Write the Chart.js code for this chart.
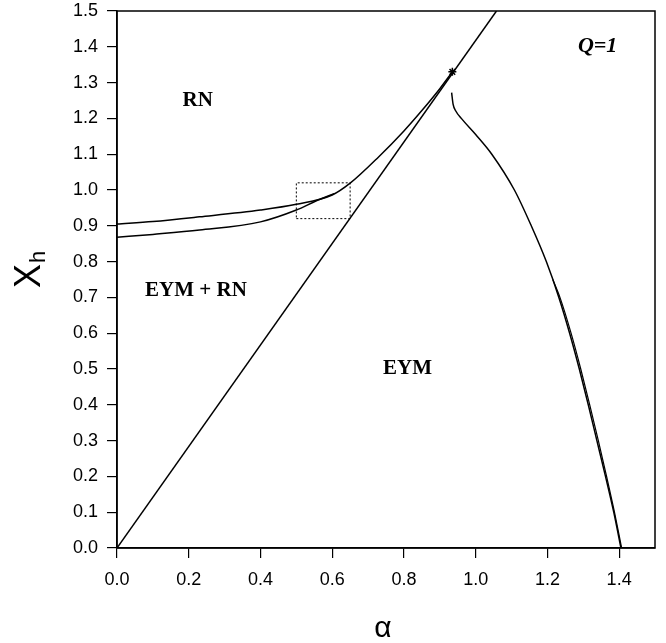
<!DOCTYPE html>
<html lang="en">
<head>
    <meta charset="UTF-8">
    <title>Phase diagram Q=1</title>
    <script src="https://cdn.jsdelivr.net/npm/chart.js"></script>
    <style>
        body {
            margin: 0;
            padding: 0;
            background: white;
        }
        #wrap {
            width: 666px;
            height: 643px;
        }
    </style>
</head>
<body>
    <div id="wrap"><canvas id="phaseChart" width="666" height="643"></canvas></div>

    <script>
        // tick labels
        const xTicks = [0.0, 0.2, 0.4, 0.6, 0.8, 1.0, 1.2, 1.4];
        const yTicks = [0.0, 0.1, 0.2, 0.3, 0.4, 0.5, 0.6, 0.7, 0.8, 0.9, 1.0, 1.1, 1.2, 1.3, 1.4, 1.5];

        // straight boundary line
        const lineAlpha = [0.0, 1.058];
        const lineX = [0.0, 1.5];

        // upper RN boundary
        const upperAlpha = [0.0, 0.1, 0.23, 0.4, 0.5, 0.6, 0.65, 0.73, 0.8, 0.85, 0.9, 0.935];
        const upperX = [0.905, 0.912, 0.925, 0.944, 0.960, 0.986, 1.019, 1.093, 1.165, 1.222, 1.283, 1.330];

        // lower EYM + RN boundary
        const lowerAlpha = [0.0, 0.1, 0.23, 0.4, 0.5, 0.556, 0.605];
        const lowerX = [0.868, 0.876, 0.888, 0.911, 0.944, 0.970, 0.990];

        // right-hand EYM branch (two close branches near the bottom)
        const rightAlpha = [0.933, 0.937, 0.945, 0.960, 1.000, 1.045, 1.108, 1.155, 1.197, 1.232, 1.262, 1.289, 1.314, 1.338, 1.362, 1.385, 1.405];
        const rightX = [1.272, 1.240, 1.220, 1.200, 1.155, 1.100, 1.000, 0.900, 0.800, 0.700, 0.600, 0.500, 0.400, 0.300, 0.200, 0.100, 0.0];
        const right2Alpha = [1.215, 1.235, 1.266, 1.293, 1.318, 1.342, 1.365, 1.387, 1.407];
        const right2X = [0.750, 0.700, 0.600, 0.500, 0.400, 0.300, 0.200, 0.100, 0.0];

        // dotted box
        const boxAlpha = [0.5, 0.65, 0.65, 0.5, 0.5];
        const boxX = [0.92, 0.92, 1.02, 1.02, 0.92];

        // end point marker
        const starAlpha = [0.935];
        const starX = [1.33];

        // region labels
        const regionNames = ['RN', 'EYM + RN', 'EYM'];
        const regionAlpha = [0.225, 0.22, 0.81];
        const regionX = [1.25, 0.72, 0.5];

        function pts(xs, ys) {
            return xs.map((x, i) => ({ x: x, y: ys[i] }));
        }

        const lineStyle = {
            showLine: true,
            borderColor: '#000',
            borderWidth: 1.5,
            pointRadius: 0,
            fill: false
        };

        const frame = {
            id: 'frame',
            afterDraw(chart) {
                const { ctx, chartArea: a, scales } = chart;
                ctx.save();
                ctx.strokeStyle = '#000';
                ctx.lineWidth = 1.5;
                ctx.strokeRect(a.left, a.top, a.right - a.left, a.bottom - a.top);

                ctx.fillStyle = '#000';
                ctx.textAlign = 'center';
                ctx.textBaseline = 'middle';
                ctx.font = 'bold 21px "Liberation Serif"';
                regionNames.forEach((name, i) => {
                    ctx.fillText(name, scales.x.getPixelForValue(regionAlpha[i]), scales.y.getPixelForValue(regionX[i]));
                });
                ctx.font = 'italic bold 22px "Liberation Serif"';
                ctx.fillText('Q=1', scales.x.getPixelForValue(1.34), scales.y.getPixelForValue(1.4));

                // axis titles
                ctx.font = '30px "Liberation Sans"';
                ctx.fillText('\u03b1', (a.left + a.right) / 2 - 3, 629);

                ctx.translate(30, 276);
                ctx.rotate(-Math.PI / 2);
                ctx.textAlign = 'center';
                ctx.font = '36px "Liberation Sans"';
                const w = ctx.measureText('X').width;
                ctx.fillText('X', 0, 0);
                ctx.textAlign = 'left';
                ctx.font = '22px "Liberation Sans"';
                ctx.fillText('h', w / 2 + 1, 9);
                ctx.restore();
            }
        };

        const ctx = document.getElementById('phaseChart').getContext('2d');
        new Chart(ctx, {
            type: 'scatter',
            data: {
                datasets: [
                    { ...lineStyle, data: pts(lineAlpha, lineX), tension: 0 },
                    { ...lineStyle, data: pts(upperAlpha, upperX), cubicInterpolationMode: 'monotone' },
                    { ...lineStyle, data: pts(lowerAlpha, lowerX), cubicInterpolationMode: 'monotone' },
                    { ...lineStyle, data: pts(rightAlpha, rightX), cubicInterpolationMode: 'monotone' },
                    { ...lineStyle, data: pts(right2Alpha, right2X), borderWidth: 1.2, cubicInterpolationMode: 'monotone' },
                    { ...lineStyle, data: pts(boxAlpha, boxX), borderWidth: 1, borderDash: [2, 2], tension: 0 },
                    {
                        data: pts(starAlpha, starX),
                        pointStyle: 'star',
                        pointRadius: 4,
                        borderColor: '#000',
                        borderWidth: 1.5,
                        backgroundColor: '#000'
                    }
                ]
            },
            options: {
                responsive: false,
                animation: false,
                layout: { padding: { top: 11, right: 11, left: 0, bottom: 0 } },
                plugins: {
                    legend: { display: false },
                    tooltip: { enabled: false }
                },
                scales: {
                    x: {
                        type: 'linear',
                        min: 0,
                        max: 1.5,
                        afterFit(scale) {
                            scale.height = 95;
                            scale.paddingRight = 0;
                        },
                        afterBuildTicks(scale) { scale.ticks = xTicks.map(v => ({ value: v })); },
                        ticks: {
                            color: '#000',
                            font: { family: 'Liberation Sans', size: 18 },
                            padding: 11,
                            maxRotation: 0,
                            callback: v => v.toFixed(1)
                        },
                        grid: { drawOnChartArea: false, drawTicks: true, tickLength: 10, color: '#000', lineWidth: 1.2 },
                        border: { display: true, color: '#000', width: 1.5 }
                    },
                    y: {
                        type: 'linear',
                        min: 0,
                        max: 1.5,
                        afterFit(scale) {
                            scale.width = 117;
                            scale.paddingTop = 0;
                            scale.paddingBottom = 0;
                        },
                        afterBuildTicks(scale) { scale.ticks = yTicks.map(v => ({ value: v })); },
                        ticks: {
                            color: '#000',
                            font: { family: 'Liberation Sans', size: 18 },
                            padding: 9,
                            callback: v => v.toFixed(1)
                        },
                        grid: { drawOnChartArea: false, drawTicks: true, tickLength: 10, color: '#000', lineWidth: 1.2 },
                        border: { display: true, color: '#000', width: 1.5 }
                    }
                }
            },
            plugins: [frame]
        });
    </script>
</body>
</html>
